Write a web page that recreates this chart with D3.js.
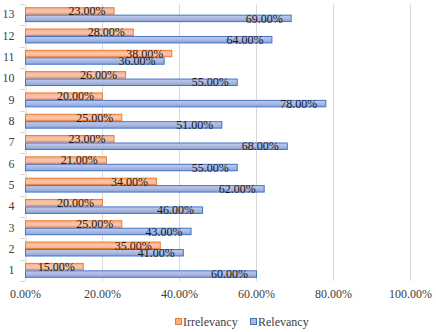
<!DOCTYPE html>
<html>
<head>
<meta charset="utf-8">
<script src="https://cdn.jsdelivr.net/npm/d3@7"></script>
<style>
  html, body { margin: 0; padding: 0; background: #fff; }
  svg text { font-family: "Liberation Serif", "DejaVu Serif", serif; }
</style>
</head>
<body>
<svg id="chart" width="436" height="332"></svg>
<script>
const categories = ['1', '2', '3', '4', '5', '6', '7', '8', '9', '10', '11', '12', '13']
const irrelevancy = [15, 35, 25, 20, 34, 21, 23, 25, 20, 26, 38, 28, 23]
const relevancy = [60, 41, 43, 46, 62, 55, 68, 51, 78, 55, 36, 64, 69]
const xTicks = [0, 20, 40, 60, 80, 100]
const seriesNames = ['Irrelevancy', 'Relevancy']

const width = 436
const height = 332
const marginLeft = 25
const marginRight = 26
const marginTop = 4
const marginBottom = 51
const serif = '"Liberation Serif", "DejaVu Serif", serif'

const svg = d3.select('#chart')

// Gradients for the bar fills
const defs = svg.append('defs')
const gradOrange = defs.append('linearGradient')
  .attr('id', 'gradOrange').attr('x1', 0).attr('x2', 0).attr('y1', 0).attr('y2', 1)
gradOrange.append('stop').attr('offset', '0%').attr('stop-color', '#f4ad89')
gradOrange.append('stop').attr('offset', '50%').attr('stop-color', '#f8c6ab')
gradOrange.append('stop').attr('offset', '100%').attr('stop-color', '#f4b08f')
const gradBlue = defs.append('linearGradient')
  .attr('id', 'gradBlue').attr('x1', 0).attr('x2', 0).attr('y1', 0).attr('y2', 1)
gradBlue.append('stop').attr('offset', '0%').attr('stop-color', '#c2cdeb')
gradBlue.append('stop').attr('offset', '50%').attr('stop-color', '#aab9e2')
gradBlue.append('stop').attr('offset', '100%').attr('stop-color', '#8ea3d8')

const colors = {
  Irrelevancy: { fill: 'url(#gradOrange)', stroke: '#ed7d31', legend: '#f4b183' },
  Relevancy: { fill: 'url(#gradBlue)', stroke: '#4472c4', legend: '#a9b9e1' },
}

const data = categories.map((c, i) => ({
  category: c,
  values: [
    { key: 'Irrelevancy', value: irrelevancy[i] },
    { key: 'Relevancy', value: relevancy[i] },
  ],
}))

const x = d3.scaleLinear()
  .domain([0, 100])
  .range([marginLeft, width - marginRight])

const y = d3.scaleBand()
  .domain(categories.slice().reverse())
  .range([marginTop, height - marginBottom])
  .paddingInner(0.3)
  .paddingOuter(0.15)

const ySub = d3.scaleBand()
  .domain(seriesNames)
  .range([0, y.bandwidth()])

// Gridlines
svg.append('g')
  .selectAll('line')
  .data(xTicks.filter(d => d > 0))
  .join('line')
  .attr('x1', d => x(d) + 0.5)
  .attr('x2', d => x(d) + 0.5)
  .attr('y1', marginTop)
  .attr('y2', height - marginBottom)
  .attr('stroke', '#d9d9d9')
  .attr('stroke-width', 1)

// Category axis (left)
const yAxis = d3.axisLeft(y).tickSizeInner(0).tickSizeOuter(0).tickPadding(11)
const yAxisG = svg.append('g')
  .attr('transform', `translate(${marginLeft + 0.5},0)`)
  .call(yAxis)
  .attr('font-family', serif)
  .attr('font-size', 12)
yAxisG.select('.domain').attr('stroke', '#d9d9d9')
yAxisG.selectAll('text').attr('fill', '#404040')

// Small ticks between categories
const boundaries = categories.map((c, i) => y(c) - y.step() * y.paddingInner() / 2)
boundaries.push(height - marginBottom)
svg.append('g')
  .selectAll('line')
  .data(boundaries)
  .join('line')
  .attr('x1', marginLeft - 5)
  .attr('x2', marginLeft)
  .attr('y1', d => Math.round(d) + 0.5)
  .attr('y2', d => Math.round(d) + 0.5)
  .attr('stroke', '#d9d9d9')

// Value axis (bottom) labels
const xAxis = d3.axisBottom(x)
  .tickValues(xTicks)
  .tickFormat(d => d.toFixed(2) + '%')
  .tickSize(0)
  .tickPadding(8)
const xAxisG = svg.append('g')
  .attr('transform', `translate(0,${height - marginBottom})`)
  .call(xAxis)
  .attr('font-family', serif)
  .attr('font-size', 12)
xAxisG.select('.domain').remove()
xAxisG.selectAll('text').attr('fill', '#404040')

// Bars
const groups = svg.append('g')
  .selectAll('g')
  .data(data)
  .join('g')
  .attr('transform', d => `translate(0,${y(d.category)})`)

groups.selectAll('rect')
  .data(d => d.values)
  .join('rect')
  .attr('x', x(0) + 0.5)
  .attr('y', d => ySub(d.key) + 0.5)
  .attr('width', d => x(d.value) - x(0))
  .attr('height', ySub.bandwidth() - 1)
  .attr('fill', d => colors[d.key].fill)
  .attr('stroke', d => colors[d.key].stroke)
  .attr('stroke-width', 1)

groups.selectAll('text')
  .data(d => d.values)
  .join('text')
  .attr('x', d => x(d.value) - 8)
  .attr('y', d => ySub(d.key) + ySub.bandwidth() / 2)
  .attr('dy', '0.35em')
  .attr('text-anchor', 'end')
  .attr('fill', '#1a1a1a')
  .attr('font-family', serif)
  .attr('font-size', 12)
  .text(d => d.value.toFixed(2) + '%')

// Legend
const legend = svg.append('g')
  .attr('transform', `translate(175,${height - 10})`)
const legendItems = [
  { key: 'Irrelevancy', dx: 0 },
  { key: 'Relevancy', dx: 75 },
]
const li = legend.selectAll('g')
  .data(legendItems)
  .join('g')
  .attr('transform', d => `translate(${d.dx},0)`)
li.append('rect')
  .attr('x', 0.5)
  .attr('y', -3.5)
  .attr('width', 6)
  .attr('height', 6)
  .attr('fill', d => colors[d.key].legend)
  .attr('stroke', d => colors[d.key].stroke)
li.append('text')
  .attr('x', 8)
  .attr('y', 0)
  .attr('dy', '0.35em')
  .attr('fill', '#404040')
  .attr('font-family', serif)
  .attr('font-size', 12)
  .text(d => d.key)
</script>
</body>
</html>
